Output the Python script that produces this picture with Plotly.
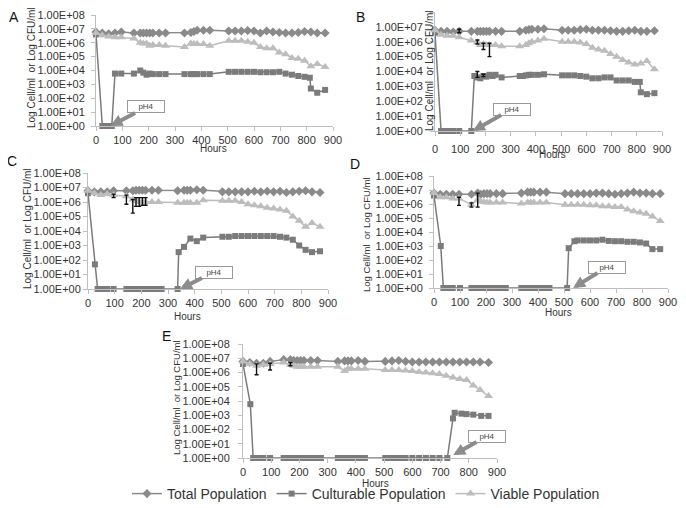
import math
import plotly.graph_objects as go

W, H = 686, 508
PAGE_OFFSET = 8  # the page body adds an 8 px margin around the figure

# ---------------- data ----------------
t_hours = [0, 24, 48, 72, 96, 144, 168, 180, 192, 204, 216, 240, 264, 336, 360, 372, 384,
           408, 432, 504, 528, 552, 576, 600, 624, 648, 672, 696, 720, 744, 768, 792, 816, 840, 870]

a_total = [6e6, 5e6, 4.5e6, 5e6, 6e6, 5e6, 5e6, 5e6, 5e6, 5e6, 5e6, 5e6, 5e6, 5e6, 5.5e6, 6.5e6, 8e6,
           8e6, 8e6, 7e6, 7e6, 7e6, 7.5e6, 7e6, 5e6, 7e6, 6e6, 5.5e6, 5e6, 5e6, 5.5e6, 6.5e6, 6e6, 5e6, 5e6]
a_viable = [5e6, 3.5e6, 2.8e6, 2.5e6, 2.5e6, 2e6, 1e6, 9e5, 9e5, 6e5, 7e5, 7e5, 6e5, 5e5, 9e5, 8e5, 8e5,
            8e5, 6e5, 1.4e6, 1.4e6, 1.4e6, 1.2e6, 1e6, 5e5, 4e5, 4e5, 2e5, 1.5e5, 8e4, 7e4, 5e4, 2e4, 3e4, 1.8e4]
a_cult_hours = [0, 24, 36, 48, 60, 72, 96, 144, 168, 180, 192, 204, 216, 240, 264, 336, 360, 372, 384,
                408, 432, 504, 528, 552, 576, 600, 624, 648, 672, 696, 720, 744, 768, 792, 812, 816, 840, 870]
a_cult = [4e6, 1, 1, 1, 1, 6000, 6000, 6000, 1e4, 7000, 5000, 6000, 5500, 5500, 5500, 5500, 5500, 5500,
          5500, 5500, 5500, 8000, 8000, 8000, 8000, 8000, 7500, 7500, 7500, 8000, 6000, 5000, 4000, 3500,
          3000, 500, 250, 400]

b_total = [6e6, 5e6, 5e6, 4.5e6, 5e6, 5e6, 5e6, 5e6, 5e6, 5e6, 5e6, 5e6, 5e6, 5e6, 6e6, 6.5e6, 7e6,
           7e6, 7.5e6, 6e6, 6e6, 6e6, 6.5e6, 7e6, 6e6, 6e6, 6e6, 5.5e6, 5e6, 5e6, 5.5e6, 6e6, 5e6, 5e6, 5.5e6]
b_viable = [6e6, 3e6, 2.5e6, 2.5e6, 2e6, 1.2e6, 9e5, 6e5, 7e5, 6e5, 6e5, 6e5, 5e5, 5e5, 6e5, 8e5, 1e6,
            1.2e6, 1.6e6, 1e6, 1e6, 1e6, 9e5, 7e5, 4e5, 3e5, 2.5e5, 1.5e5, 1e5, 6e4, 4e4, 3e4, 3.5e4, 5e4, 1.4e4]
b_cult_hours = [0, 24, 36, 48, 60, 72, 96, 144, 156, 168, 180, 192, 204, 216, 228, 240, 264, 336, 348,
                360, 372, 384, 408, 432, 504, 528, 552, 576, 600, 624, 648, 672, 696, 720, 744, 768, 792,
                812, 816, 840, 870]
b_cult = [4e6, 1, 1, 1, 1, 1, 1, 1, 5000, 4000, 3500, 5000, 4500, 6000, 5000, 6000, 4000, 5000, 5000,
          5500, 6000, 6000, 6000, 6500, 5500, 5500, 5500, 5000, 4500, 3500, 3500, 4000, 4000, 2500, 2500,
          2500, 2000, 2000, 400, 300, 350]

c_total = [6e6, 5e6, 5e6, 5e6, 6e6, 6e6, 6e6, 6.5e6, 6.5e6, 6.5e6, 6.5e6, 6.5e6, 6.5e6, 6e6, 6.5e6, 6.5e6,
           6.5e6, 7e6, 6.5e6, 5e6, 5e6, 5e6, 5e6, 5e6, 5.5e6, 5e6, 5.5e6, 5e6, 5.5e6, 4.5e6, 5e6, 5.5e6,
           6e6, 5e6, 4.5e6]
c_viable = [6e6, 4e6, 3e6, 3.5e6, 3e6, 2.5e6, 1.5e6, 1.2e6, 1e6, 1e6, 1e6, 1e6, 1e6, 9e5, 9e5, 9e5, 9e5,
            9e5, 1.3e6, 1.2e6, 1.2e6, 1.2e6, 1e6, 7e5, 6e5, 5e5, 4e5, 3.5e5, 3e5, 2.5e5, 1e5, 5e4, 2e4,
            3.5e4, 2e4]
c_cult_hours = [0, 26, 36, 48, 60, 72, 96, 144, 156, 168, 180, 192, 204, 216, 228, 240, 252, 264, 276,
                336, 340, 360, 384, 408, 432, 504, 528, 552, 576, 600, 624, 648, 672, 696, 720, 744, 768,
                792, 816, 840, 870]
c_cult = [4e6, 50, 1, 1, 1, 1, 1, 1, 1, 1, 1, 1, 1, 1, 1, 1, 1, 1, 1,
          1, 350, 800, 3000, 2000, 3500, 4000, 4000, 4500, 4500, 4500, 4500, 4500, 4500, 4500, 4000, 3500,
          2500, 1000, 500, 350, 400]

d_total = [6e6, 5e6, 5e6, 5e6, 5e6, 5e6, 6e6, 5e6, 5.5e6, 5.5e6, 5.5e6, 5.5e6, 5.5e6, 6e6, 7e6, 7e6, 7e6,
           7e6, 7e6, 5.5e6, 5.5e6, 5.5e6, 5.5e6, 5.5e6, 6e6, 6e6, 5.5e6, 5e6, 5.5e6, 6e6, 7e6, 6e6, 6e6,
           5.5e6, 5.5e6]
d_viable = [6e6, 3e6, 3e6, 2.5e6, 2.5e6, 9e5, 2e6, 1.5e6, 1.4e6, 1.3e6, 1.3e6, 1.3e6, 1.3e6, 1.1e6, 1.3e6,
            1.3e6, 1.3e6, 1.3e6, 1.3e6, 9e5, 9e5, 9e5, 9e5, 8e5, 8e5, 7e5, 7e5, 6e5, 6e5, 4e5, 3e5, 2.5e5,
            2e5, 1.3e5, 6e4]
d_cult_hours = [0, 26, 36, 48, 60, 72, 100, 144, 156, 168, 180, 192, 204, 216, 228, 240, 252, 264, 276,
                336, 348, 360, 372, 384, 396, 408, 420, 432, 444, 512, 518, 540, 552, 576, 600, 624, 648,
                672, 696, 720, 744, 768, 792, 816, 840, 870]
d_cult = [4e6, 1000, 1, 1, 1, 1, 1, 1, 1, 1, 1, 1, 1, 1, 1, 1, 1, 1, 1,
          1, 1, 1, 1, 1, 1, 1, 1, 1, 1, 1, 700, 2200, 2500, 2500, 2500, 2500, 2800,
          2300, 2200, 2200, 2000, 2000, 1800, 1500, 600, 600]

e_total = [6e6, 5e6, 4.5e6, 4.5e6, 6e6, 8e6, 8e6, 7e6, 7e6, 7e6, 7e6, 7e6, 7e6, 6e6, 6.5e6, 6.5e6, 6.5e6,
           7e6, 6e6, 6e6, 6.5e6, 7e6, 6e6, 5.5e6, 5.5e6, 5.5e6, 5.5e6, 5.5e6, 5.5e6, 5.5e6, 5.5e6, 5.5e6,
           5.5e6, 5.5e6, 5e6]
e_viable = [6e6, 4e6, 3e6, 3.5e6, 4e6, 5e6, 3.5e6, 3e6, 2.5e6, 2.5e6, 2.5e6, 2.5e6, 2.5e6, 2.5e6, 1.3e6,
            1.8e6, 1.8e6, 1.8e6, 1.8e6, 1.5e6, 1.5e6, 1.5e6, 1.4e6, 1.3e6, 1.1e6, 1e6, 9e5, 8e5, 6e5,
            4.5e5, 3.5e5, 3e5, 1.2e5, 6e4, 2.2e4]
e_cult_hours = [0, 26, 36, 48, 60, 72, 96, 144, 156, 168, 180, 192, 204, 216, 228, 240, 252, 264, 276,
                336, 348, 360, 372, 384, 396, 408, 420, 432, 504, 516, 528, 540, 552, 564, 576, 600, 624,
                648, 672, 696, 724, 744, 750, 774, 792, 816, 844, 870]
e_cult = [4e6, 6000, 1, 1, 1, 1, 1, 1, 1, 1, 1, 1, 1, 1, 1, 1, 1, 1, 1,
          1, 1, 1, 1, 1, 1, 1, 1, 1, 1, 1, 1, 1, 1, 1, 1, 1, 1,
          1, 1, 1, 1, 600, 1500, 1300, 1200, 1100, 900, 900]

# error bars (hour, value, low, high)
b_err_hours = [96, 168, 192, 216, 168, 192]
b_err_mid = [5e6, 1e6, 6e5, 6e5, 5000, 5000]
b_err_lo = [4e6, 7e5, 3e5, 1e5, 4000, 4500]
b_err_hi = [7e6, 1.3e6, 8e5, 8e5, 1e4, 6500]
c_err_hours = [96, 144, 168, 180, 192, 204, 216]
c_err_mid = [3e6, 2.5e6, 1.2e6, 1.2e6, 1e6, 1e6, 1e6]
c_err_lo = [2e6, 7e5, 1.7e5, 5e5, 5e5, 6e5, 6e5]
c_err_hi = [3.5e6, 3e6, 1.5e6, 2e6, 2e6, 2e6, 2e6]
d_err_hours = [96, 144, 168]
d_err_mid = [2.5e6, 9e5, 2e6]
d_err_lo = [8e5, 6e5, 6e5]
d_err_hi = [3e6, 1.2e6, 6e6]
e_err_hours = [48, 96, 168]
e_err_mid = [3e6, 4e6, 3.5e6]
e_err_lo = [7e5, 1.5e6, 3e6]
e_err_hi = [4e6, 4.5e6, 5e6]

ph4_hours = [55, 150, 345, 535, 745]
ph4_level = [1, 1, 1, 1, 1.6]

panel_letters = ["A", "B", "C", "D", "E"]
series_names = ["Total Population", "Culturable Population", "Viable Population"]
x_ticks = [0, 100, 200, 300, 400, 500, 600, 700, 800, 900]
y_ticks = [1, 10, 100, 1e3, 1e4, 1e5, 1e6, 1e7, 1e8]
y_tick_labels = ["1.00E+00", "1.00E+01", "1.00E+02", "1.00E+03", "1.00E+04",
                 "1.00E+05", "1.00E+06", "1.00E+07", "1.00E+08"]
y_title = "Log Cell/ml  or Log CFU/ml"
x_title = "Hours"

panels = [
    (a_total, a_cult_hours, a_cult, a_viable, None),
    (b_total, b_cult_hours, b_cult, b_viable, (b_err_hours, b_err_mid, b_err_lo, b_err_hi)),
    (c_total, c_cult_hours, c_cult, c_viable, (c_err_hours, c_err_mid, c_err_lo, c_err_hi)),
    (d_total, d_cult_hours, d_cult, d_viable, (d_err_hours, d_err_mid, d_err_lo, d_err_hi)),
    (e_total, e_cult_hours, e_cult, e_viable, (e_err_hours, e_err_mid, e_err_lo, e_err_hi)),
]

# ---------------- layout geometry (page pixels) ----------------
plot_px = [(96, 333, 15, 126), (435, 662, 12, 131), (88, 328, 173, 289),
           (434, 668, 176, 288), (243, 497, 344, 458)]
letter_px = [(14, 17), (360, 17), (12, 161), (355, 164), (166, 336)]
ytitle_px = [(31, 68, 10), (429, 70, 10), (27, 229, 10), (366, 235, 9.5), (176, 398, 9.5)]
hours_px = [(214, 149), (552, 155), (188, 316), (558, 312), (375, 483)]
ph4_off = [(36, -19), (39, -22), (34, -17), (34, -21), (34, -19)]
xlabel_standoff = [0, 4, 0, 0, 0]
ylabel_standoff = [4, 5, 0, 4, 6]
legend_px = (127, 494)

col_total = "#8a8a8a"
col_cult = "#7b7b7b"
col_viable = "#bdbdbd"
axis_col = "#bfbfbf"
FONT = "Liberation Sans, Arial, sans-serif"


def px_x(p):
    return (p - PAGE_OFFSET) / W


def px_y(p):
    return 1 - (p - PAGE_OFFSET) / H


fig = go.Figure()
annotations = []
layout_axes = {}

for i, (tot, ch, cv, via, err) in enumerate(panels):
    sfx = "" if i == 0 else str(i + 1)
    xa, ya = "x" + sfx, "y" + sfx
    show = i == 0
    fig.add_trace(go.Scatter(
        x=t_hours, y=tot, xaxis=xa, yaxis=ya, mode="lines+markers", name=series_names[0],
        legendgroup="t", showlegend=show, cliponaxis=False,
        line=dict(color=col_total, width=1.5),
        marker=dict(symbol="diamond", size=7, color=col_total)))
    fig.add_trace(go.Scatter(
        x=ch, y=cv, xaxis=xa, yaxis=ya, mode="lines+markers", name=series_names[1],
        legendgroup="c", showlegend=show, cliponaxis=False,
        line=dict(color=col_cult, width=1.5),
        marker=dict(symbol="square", size=6, color=col_cult)))
    fig.add_trace(go.Scatter(
        x=t_hours, y=via, xaxis=xa, yaxis=ya, mode="lines+markers", name=series_names[2],
        legendgroup="v", showlegend=show, cliponaxis=False,
        line=dict(color=col_viable, width=1.5),
        marker=dict(symbol="triangle-up", size=8, color=col_viable)))
    if err is not None:
        eh, em, elo, ehi = err
        fig.add_trace(go.Scatter(
            x=eh, y=em, xaxis=xa, yaxis=ya, mode="markers", showlegend=False,
            marker=dict(size=1, color="rgba(0,0,0,0)"), cliponaxis=False,
            error_y=dict(type="data", symmetric=False,
                         array=[h - m for h, m in zip(ehi, em)],
                         arrayminus=[m - l for m, l in zip(em, elo)],
                         color="#111111", thickness=1.4, width=2)))

    l, r, t, b = plot_px[i]
    layout_axes["xaxis" + sfx] = dict(
        domain=[px_x(l), px_x(r)], range=[0, 900], anchor=ya, tickvals=x_ticks,
        showline=True, linecolor=axis_col, linewidth=1, ticks="outside", tickcolor=axis_col,
        ticklen=4, tickfont=dict(size=11, color="#333333", family=FONT), showgrid=False,
        zeroline=False, ticklabelstandoff=xlabel_standoff[i], automargin=False)
    layout_axes["yaxis" + sfx] = dict(
        domain=[px_y(b), px_y(t)], type="log", range=[0, 8], anchor=xa,
        tickvals=y_ticks, ticktext=y_tick_labels,
        showline=True, linecolor=axis_col, linewidth=1, ticks="outside", tickcolor=axis_col,
        ticklen=4, tickfont=dict(size=11, color="#333333", family=FONT), showgrid=False,
        zeroline=False, ticklabelstandoff=ylabel_standoff[i], automargin=False)

    lx, ly = letter_px[i]
    annotations.append(dict(x=px_x(lx), y=px_y(ly), xref="paper", yref="paper",
                            xanchor="center", yanchor="middle",
                            text=panel_letters[i], showarrow=False,
                            font=dict(size=14, color="#111111", family=FONT)))
    tx, ty, fs = ytitle_px[i]
    annotations.append(dict(x=px_x(tx), y=px_y(ty), xref="paper", yref="paper",
                            xanchor="center", yanchor="middle",
                            text=y_title, textangle=-90, showarrow=False,
                            font=dict(size=fs, color="#333333", family=FONT)))
    hx, hy = hours_px[i]
    annotations.append(dict(x=px_x(hx), y=px_y(hy), xref="paper", yref="paper",
                            xanchor="center", yanchor="middle",
                            text=x_title, showarrow=False,
                            font=dict(size=10, color="#333333", family=FONT)))
    ox, oy = ph4_off[i]
    annotations.append(dict(
        x=ph4_hours[i], y=math.log10(ph4_level[i]), xref=xa, yref=ya, text="pH4",
        showarrow=True, ax=ox, ay=oy, arrowhead=2, arrowsize=0.6, arrowwidth=4,
        arrowcolor="#8c8c8c", standoff=0, bordercolor="#9a9a9a", borderwidth=1,
        bgcolor="white", width=34, height=9, font=dict(size=8, color="#444444", family=FONT)))

fig.update_layout(
    width=W, height=H, margin=dict(l=0, r=0, t=0, b=0, autoexpand=False),
    paper_bgcolor="white", plot_bgcolor="white",
    font=dict(family=FONT, color="#333333"),
    annotations=annotations,
    legend=dict(orientation="h", x=px_x(legend_px[0]), y=px_y(legend_px[1]),
                xanchor="left", yanchor="middle",
                font=dict(size=14, color="#333333", family=FONT), bgcolor="rgba(0,0,0,0)"),
    **layout_axes)

fig.write_html("out.html")
